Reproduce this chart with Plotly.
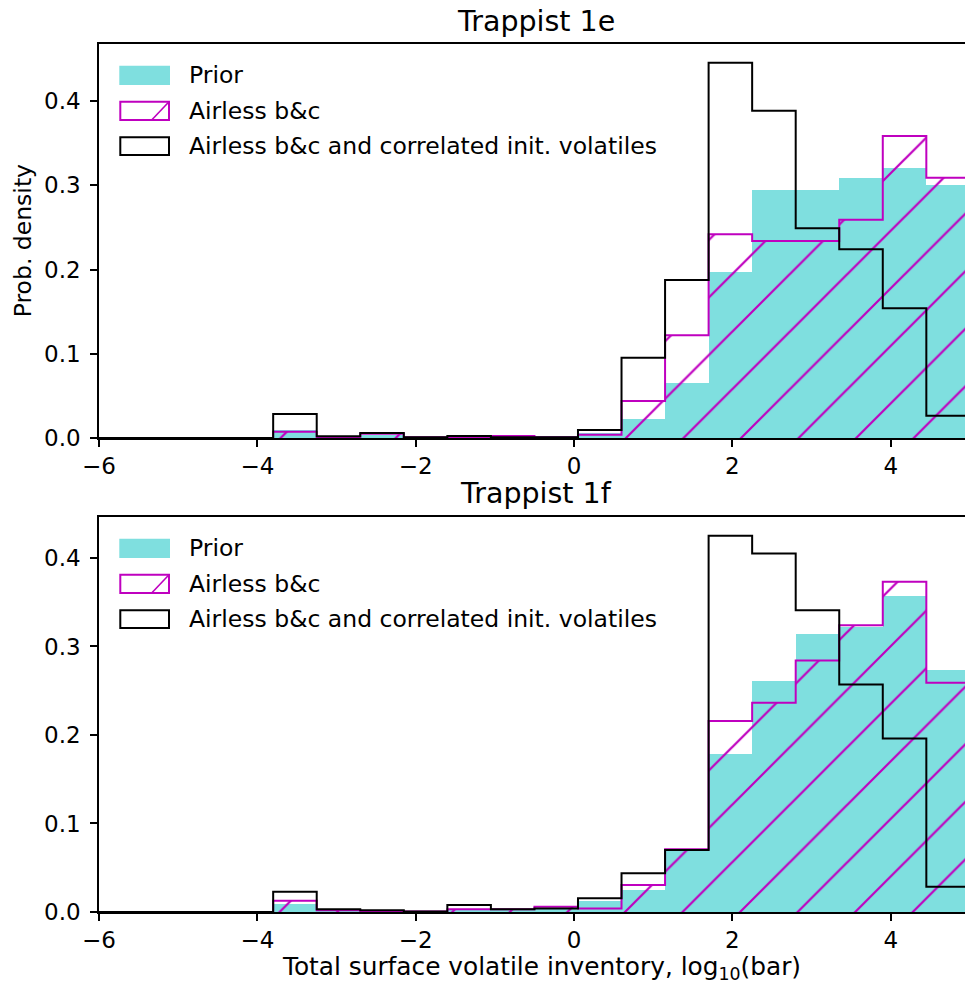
import numpy as np
import plotly.graph_objects as go

# ---------------- data ----------------
bin_edges = [-6.0, -5.45, -4.9, -4.35, -3.8, -3.25, -2.7, -2.15, -1.6, -1.05, -0.5,
             0.05, 0.6, 1.15, 1.7, 2.25, 2.8, 3.35, 3.9, 4.45, 5.0]

prior_e = [0, 0, 0, 0, 0.0095, 0.001, 0.004, 0.001, 0.001, 0.0015, 0.002, 0.0055,
           0.0225, 0.065, 0.1966, 0.294, 0.294, 0.309, 0.320, 0.300]
airless_e = [0, 0, 0, 0, 0.0075, 0.001, 0.005, 0.001, 0.001, 0.0025, 0.001, 0.004,
             0.0439, 0.122, 0.242, 0.234, 0.234, 0.259, 0.3585, 0.309]
corr_e = [0, 0, 0, 0, 0.0285, 0.002, 0.006, 0.001, 0.0025, 0.001, 0.001, 0.0095,
          0.0953, 0.1875, 0.4455, 0.3886, 0.249, 0.224, 0.154, 0.0265]

prior_f = [0, 0, 0, 0, 0.0088, 0.001, 0.001, 0.0005, 0.002, 0.002, 0.003, 0.012,
           0.0249, 0.069, 0.1785, 0.2614, 0.314, 0.322, 0.357, 0.2735]
airless_f = [0, 0, 0, 0, 0.0127, 0.002, 0.001, 0.0005, 0.003, 0.003, 0.006, 0.004,
             0.0305, 0.0708, 0.2158, 0.2365, 0.284, 0.324, 0.373, 0.259]
corr_f = [0, 0, 0, 0, 0.023, 0.003, 0.002, 0.0005, 0.008, 0.003, 0.004, 0.0156,
          0.0437, 0.070, 0.425, 0.405, 0.341, 0.257, 0.196, 0.0286]

titles = ["Trappist 1e", "Trappist 1f"]
legend_labels = ["Prior", "Airless b&c", "Airless b&c and correlated init. volatiles"]
x_ticks = [-6, -4, -2, 0, 2, 4]
y_ticks = [0.0, 0.1, 0.2, 0.3, 0.4]

# ---------------- styling ----------------
FONT = "DejaVu Sans"
CYAN = "#7fdfdf"
MAG = "#bf00bf"
BLK = "#000000"
W, H = 965, 988
L_PX, R_PX = 99, 965
TOP_PX, BOT_PX = 44, 912
panel_px = [(44, 438), (517, 912)]  # top/bottom pixel rows of each axes
FS = 23.5

edges = np.array(bin_edges)
centers = (edges[:-1] + edges[1:]) / 2
widths = np.diff(edges)

def step_xy(vals):
    xs = [edges[0]] + list(edges[:-1]) + [edges[-1], edges[-1]]
    ys = [0] + list(vals) + [vals[-1], 0]
    return xs, ys

fig = go.Figure()
panels = [(prior_e, airless_e, corr_e), (prior_f, airless_f, corr_f)]
plot_h = BOT_PX - TOP_PX
shapes, annotations = [], []

for i, (prior, airless, corr) in enumerate(panels):
    xa = "x" if i == 0 else "x2"
    ya = "y" if i == 0 else "y2"
    fig.add_trace(go.Bar(x=centers, y=prior, width=widths, xaxis=xa, yaxis=ya,
                         marker=dict(color=CYAN, line=dict(width=0)),
                         name=legend_labels[0], showlegend=False))
    fig.add_trace(go.Bar(x=centers, y=airless, width=widths, xaxis=xa, yaxis=ya,
                         marker=dict(color="rgba(0,0,0,0)", line=dict(width=0),
                                     pattern=dict(shape="/", fgcolor=MAG, fgopacity=1,
                                                  bgcolor="rgba(0,0,0,0)",
                                                  size=40.7, solidity=0.055, fillmode="overlay")),
                         name=legend_labels[1], showlegend=False))
    sx, sy = step_xy(airless)
    fig.add_trace(go.Scatter(x=sx, y=sy, mode="lines", xaxis=xa, yaxis=ya,
                             line=dict(color=MAG, width=2, shape="hv"), showlegend=False,
                             hoverinfo="skip"))
    sx, sy = step_xy(corr)
    fig.add_trace(go.Scatter(x=sx, y=sy, mode="lines", xaxis=xa, yaxis=ya,
                             line=dict(color=BLK, width=2, shape="hv"), showlegend=False,
                             name=legend_labels[2]))

    ptop, pbot = panel_px[i]
    ph = pbot - ptop
    xd = lambda px: (px - L_PX) / (R_PX - L_PX)
    yd = lambda dy, ph=ph: 1 - dy / ph
    xr, yr = xa + " domain", ya + " domain"
    # legend swatches (offsets relative to axes top)
    sw = [(21.7, 41.0), (57.7, 76.0), (93.3, 111.0)]
    shapes.append(dict(type="rect", xref=xr, yref=yr, x0=xd(119.3), x1=xd(170),
                       y0=yd(sw[0][1]), y1=yd(sw[0][0]), fillcolor=CYAN, line=dict(width=0)))
    shapes.append(dict(type="rect", xref=xr, yref=yr, x0=xd(120.3), x1=xd(169),
                       y0=yd(sw[1][1]), y1=yd(sw[1][0]), fillcolor="rgba(0,0,0,0)",
                       line=dict(color=MAG, width=2)))
    shapes.append(dict(type="line", xref=xr, yref=yr, x0=xd(151.7), x1=xd(169),
                       y0=yd(sw[1][1]), y1=yd(sw[1][0]), line=dict(color=MAG, width=1.6)))
    shapes.append(dict(type="rect", xref=xr, yref=yr, x0=xd(120.3), x1=xd(169),
                       y0=yd(sw[2][1]), y1=yd(sw[2][0]), fillcolor="rgba(0,0,0,0)",
                       line=dict(color=BLK, width=2)))
    for k, lab in enumerate(legend_labels):
        cy = (sw[k][0] + sw[k][1]) / 2
        annotations.append(dict(text=lab, xref=xr, yref=yr, x=xd(187), y=yd(cy),
                                xanchor="left", yanchor="middle", showarrow=False,
                                font=dict(family=FONT, size=FS, color="black")))
    # panel title
    annotations.append(dict(text=titles[i], xref=xr, yref=yr, x=xd(535.5), y=1 + 23 / ph,
                            xanchor="center", yanchor="middle", showarrow=False,
                            font=dict(family=FONT, size=28.5, color="black")))

# axis labels
annotations.append(dict(text="Prob. density", xref="x domain", yref="y domain",
                        x=(23.3 - L_PX) / (R_PX - L_PX), y=0.5, textangle=-90,
                        xanchor="center", yanchor="middle", showarrow=False,
                        font=dict(family=FONT, size=FS, color="black")))
annotations.append(dict(text="Total surface volatile inventory, log<sub>10</sub>(bar)",
                        xref="x2 domain", yref="y2 domain",
                        x=(541 - L_PX) / (R_PX - L_PX), y=-(968 - 912) / 395,
                        xanchor="center", yanchor="middle", showarrow=False,
                        font=dict(family=FONT, size=24.8, color="black")))

xrange = [-6, -6 + (R_PX - L_PX) / 79.17]
axis_common = dict(showline=True, linecolor="black", linewidth=1.6, ticks="outside",
                   ticklen=7, tickwidth=1.6, tickcolor="black", showgrid=False, zeroline=False,
                   tickfont=dict(family=FONT, size=23, color="black"))
xax = dict(axis_common, range=xrange, tickvals=x_ticks, mirror=True)
yax_e = dict(axis_common, range=[0, max(corr_e) * 1.05], tickvals=y_ticks, tickformat=".1f",
             ticklabelstandoff=5)
yax_f = dict(axis_common, range=[0, max(corr_f) * 1.05], tickvals=y_ticks, tickformat=".1f",
             ticklabelstandoff=5)

d_top = [(BOT_PX - panel_px[0][1]) / plot_h, 1.0]
d_bot = [0.0, (BOT_PX - panel_px[1][0]) / plot_h]

fig.update_layout(
    width=W, height=H,
    margin=dict(l=L_PX, r=W - R_PX, t=TOP_PX, b=H - BOT_PX, pad=0),
    paper_bgcolor="white", plot_bgcolor="white",
    barmode="overlay", bargap=0,
    showlegend=False,
    xaxis=dict(xax, domain=[0, 1], anchor="y"),
    yaxis=dict(yax_e, domain=d_top, anchor="x"),
    xaxis2=dict(xax, domain=[0, 1], anchor="y2"),
    yaxis2=dict(yax_f, domain=d_bot, anchor="x2"),
    shapes=shapes, annotations=annotations,
    font=dict(family=FONT, size=FS, color="black"),
)

fig.write_html("out.html", config={"displayModeBar": False},
               post_script="document.body.style.margin='0';document.body.style.overflow='hidden';")
